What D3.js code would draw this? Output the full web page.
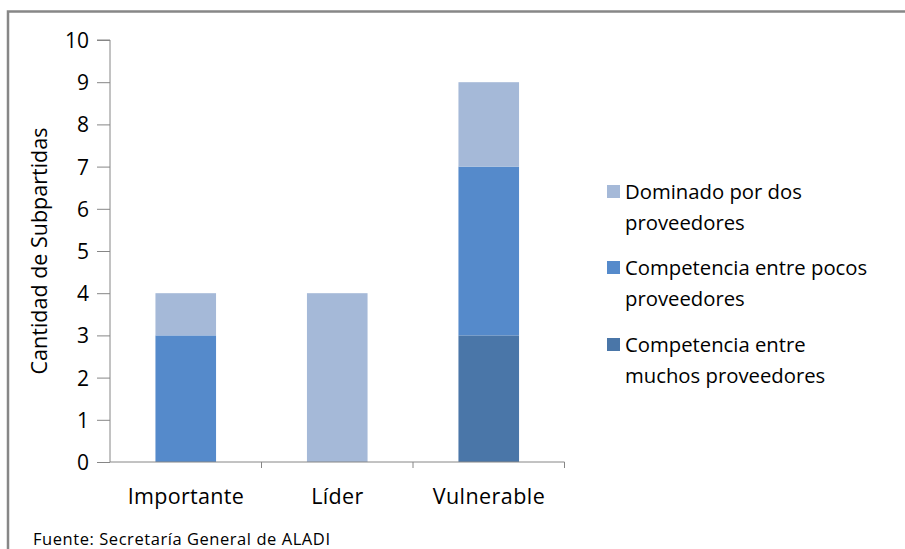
<!DOCTYPE html>
<html>
<head>
<meta charset="utf-8">
<script src="https://cdn.jsdelivr.net/npm/d3@7"></script>
<style>
  body { margin: 0; background: #fff; }
  text { font-family: "Open Sans", "Liberation Sans", sans-serif; fill: #000; }
</style>
</head>
<body>
<svg></svg>
<script>
const size = {w: 905, h: 549};
const margin = {t: 40, r: 340, b: 87, l: 110};

const categories = ['Importante', 'Líder', 'Vulnerable'];
const seriesNames = ['Competencia entre muchos proveedores', 'Competencia entre pocos proveedores', 'Dominado por dos proveedores'];
const muchos = [0, 0, 3];
const pocos = [3, 0, 4];
const dominado = [1, 4, 2];
const yTicks = [0, 1, 2, 3, 4, 5, 6, 7, 8, 9, 10];
const colors = ['#4A76A8', '#558ACB', '#A5B9D8'];
// legend lines, top to bottom
const legendItems = [
    {key: 2, lines: ['Dominado por dos', 'proveedores']},
    {key: 1, lines: ['Competencia entre pocos', 'proveedores']},
    {key: 0, lines: ['Competencia entre', 'muchos proveedores']}
];

const svg = d3.select('svg')
    .attr('width', size.w)
    .attr('height', size.h);

// frame
svg.append('path')
    .attr('d', `M8,${size.h} V11.5 H${size.w}`)
    .attr('fill', 'none')
    .attr('stroke', '#878787')
    .attr('stroke-width', 2.5);

const table = categories.map((c, i) => ({cat: c, s0: muchos[i], s1: pocos[i], s2: dominado[i]}));
const stacked = d3.stack().keys(['s0', 's1', 's2'])(table);

const x = d3.scaleBand()
    .domain(categories)
    .range([margin.l, 564.5]);

const y = d3.scaleLinear()
    .domain([0, 10])
    .range([462, margin.t]);

const barW = x.bandwidth() * 0.4;

svg.append('g')
    .selectAll('g')
    .data(stacked)
    .join('g')
    .attr('fill', (d, i) => colors[i])
    .selectAll('rect')
    .data(d => d.filter(p => p[1] > p[0]))
    .join('rect')
    .attr('x', d => x(d.data.cat) + (x.bandwidth() - barW) / 2)
    .attr('y', d => y(d[1]))
    .attr('width', barW)
    .attr('height', d => y(d[0]) - y(d[1]));

// y axis
const yAxis = svg.append('g')
    .attr('transform', `translate(${margin.l},0)`)
    .call(d3.axisLeft(y).tickValues(yTicks).tickSize(13).tickPadding(8));
yAxis.selectAll('text').attr('font-size', 21).attr('dy', '0.36em');

// x axis: tick marks at category boundaries
const xAxis = svg.append('g')
    .attr('transform', `translate(0,${y(0)})`);
xAxis.append('line')
    .attr('x1', margin.l).attr('x2', x.range()[1])
    .attr('stroke', '#868686');
xAxis.selectAll('line.tk')
    .data(categories)
    .join('line')
    .classed('tk', true)
    .attr('x1', d => x(d) + x.bandwidth())
    .attr('x2', d => x(d) + x.bandwidth())
    .attr('y1', 0).attr('y2', 6)
    .attr('stroke', '#868686');
xAxis.selectAll('text')
    .data(categories)
    .join('text')
    .attr('x', d => x(d) + x.bandwidth() / 2)
    .attr('y', 42)
    .attr('text-anchor', 'middle')
    .attr('font-size', 21.5)
    .attr('textLength', (d, i) => [116, 52, 112][i])
    .text(d => d);

yAxis.selectAll('line, path').attr('stroke', '#868686');
yAxis.select('.domain').attr('d', `M-13,${y(10)}H0V${y(0)}`);

// y title
svg.append('text')
    .attr('transform', `translate(47,${(y(0) + y(10)) / 2}) rotate(-90)`)
    .attr('text-anchor', 'middle')
    .attr('font-size', 21.5)
    .text('Cantidad de Subpartidas');

// legend
const legend = svg.append('g').attr('transform', 'translate(607,0)');
const legendTop = [199, 275, 352];
legendItems.forEach((item, i) => {
    legend.append('rect')
        .attr('x', 0).attr('y', legendTop[i] - 14)
        .attr('width', 13).attr('height', 13)
        .attr('fill', colors[item.key]);
    item.lines.forEach((t, j) => {
        legend.append('text')
            .attr('x', 18)
            .attr('y', legendTop[i] + j * 31)
            .attr('font-size', 20.3)
            .text(t);
    });
});

// source
svg.append('text')
    .attr('x', 33).attr('y', 545)
    .attr('font-size', 16.5)
    .attr('textLength', 297)
    .text('Fuente: Secretaría General de ALADI');
</script>
</body>
</html>
